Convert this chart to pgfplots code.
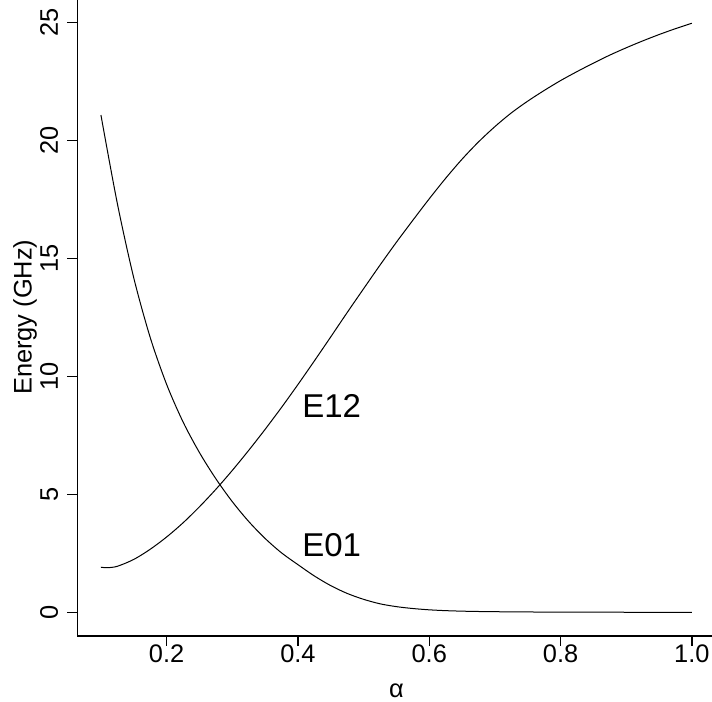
\documentclass[border=0pt]{standalone}
\usepackage{pgfplots}
\pgfplotsset{compat=1.18}
\usepackage{pgfplotstable}
\usepackage{fontspec}
\setmainfont{Liberation Sans}

% Transition energies versus alpha
\pgfplotstableread{
alpha E
0.100 21.07
0.125 17.32
0.150 14.17
0.175 11.65
0.200 9.66
0.225 8.07
0.250 6.77
0.275 5.66
0.300 4.69
0.325 3.85
0.350 3.13
0.375 2.52
0.400 2.02
0.425 1.54
0.450 1.13
0.475 0.80
0.500 0.55
0.525 0.36
0.550 0.24
0.575 0.16
0.600 0.105
0.625 0.07
0.650 0.048
0.675 0.034
0.700 0.025
0.750 0.014
0.800 0.008
0.850 0.004
0.900 0.002
0.950 0.001
1.000 0.000
}\Ezeroone

\pgfplotstableread{
alpha E
0.100 1.91
0.110 1.89
0.125 1.95
0.150 2.24
0.175 2.67
0.200 3.19
0.225 3.79
0.250 4.47
0.275 5.21
0.300 6.01
0.325 6.86
0.350 7.75
0.375 8.68
0.400 9.65
0.425 10.65
0.450 11.67
0.475 12.70
0.500 13.71
0.525 14.71
0.550 15.68
0.575 16.61
0.600 17.52
0.625 18.39
0.650 19.20
0.675 19.93
0.700 20.58
0.725 21.16
0.750 21.66
0.775 22.11
0.800 22.53
0.825 22.91
0.850 23.27
0.875 23.61
0.900 23.92
0.925 24.21
0.950 24.48
0.975 24.73
1.000 24.96
}\Eonetwo

\newcommand\tickfont{\fontsize{12.7bp}{15bp}\selectfont}
\newcommand\labfont{\fontsize{16.5bp}{19bp}\selectfont}

\begin{document}
\begin{tikzpicture}
\begin{axis}[
  scale only axis,
  width=319.1bp, height=318.6bp,
  xmin=0.064, xmax=1.036, ymin=-1, ymax=26,
  axis x line=bottom, axis y line=left,
  axis line style={line width=0.65bp, -},
  tick align=outside,
  major tick length=5bp,
  every tick/.style={line width=0.65bp, black},
  xtick={0.2,0.4,0.6,0.8,1.0},
  xticklabels={0.2,0.4,0.6,0.8,1.0},
  ytick={0,5,10,15,20,25},
  yticklabels={0,5,10,15,20,25},
  xticklabel style={font=\tickfont, anchor=north, inner sep=0pt},
  yticklabel style={font=\tickfont, rotate=90, anchor=base, inner sep=0pt},
  xticklabel shift=-1bp,
  yticklabel shift=4.7bp,
  /pgf/number format/assume math mode=true,
  xlabel={α},
  ylabel={Energy (GHz)},
  every axis x label/.style={at={(axis description cs:0.5,-0.0959)}, anchor=base, font=\tickfont, inner sep=0pt},
  every axis y label/.style={at={(axis description cs:-0.0715,0.5)}, rotate=90, anchor=base, font=\tickfont, inner sep=0pt},
  clip=false,
]
\addplot[black, line width=0.5bp, smooth] table[x=alpha, y=E] {\Ezeroone};
\addplot[black, line width=0.5bp, smooth] table[x=alpha, y=E] {\Eonetwo};
\node[font=\labfont, inner sep=0pt] at (axis cs:0.4515,8.73) {E12};
\node[font=\labfont, inner sep=0pt] at (axis cs:0.4515,2.85) {E01};
\coordinate (ll) at (rel axis cs:0,0);
\end{axis}
\pgfresetboundingbox
\useasboundingbox ([xshift=-38.65bp, yshift=-33.05bp]ll) rectangle ++(356bp,351bp);
\end{tikzpicture}
\end{document}
